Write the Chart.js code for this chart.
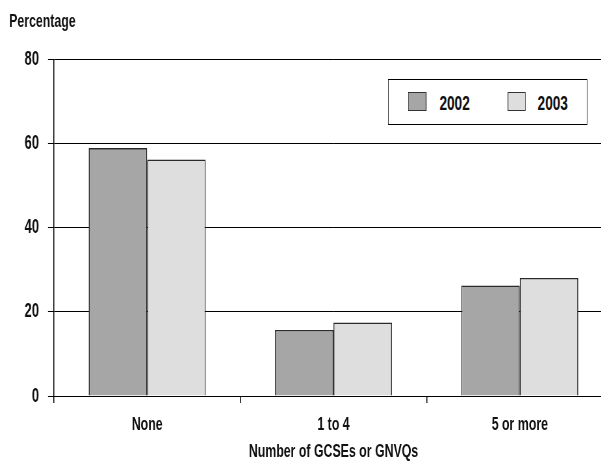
<!DOCTYPE html>
<html>
<head>
<meta charset="utf-8">
<script src="https://cdn.jsdelivr.net/npm/chart.js@4/dist/chart.umd.min.js"></script>
<style>
  html, body { margin: 0; padding: 0; background: #fff; overflow: hidden; }
  /* the reference type is a tall condensed face; squeeze the whole drawing horizontally */
  #wrap { position: relative; width: 985px; height: 465px; transform: scaleX(0.65); transform-origin: 0 0; }
  #legend {
    position: absolute; left: 597px; top: 79px; width: 305px; height: 44px;
    border-style: solid; border-color: #000; border-width: 1px 1.6px;
    background: #fff;
    font-family: "Liberation Sans", Arial, sans-serif; font-weight: bold;
    font-size: 21px; color: #111;
  }
  #legend .sw { position: absolute; top: 12px; width: 28px; height: 19px; border-style: solid; border-color: #333; border-width: 1px 1.6px; box-sizing: border-box; }
  #legend .lbl { position: absolute; top: 12px; height: 22px; line-height: 22px; }
</style>
</head>
<body>
<div id="wrap">
  <canvas id="chart" width="985" height="465"></canvas>
  <div id="legend"></div>
</div>
<script>
  var categories = ["None", "1 to 4", "5 or more"];
  var seriesNames = ["2002", "2003"];
  var values2002 = [59, 15.7, 26.3];
  var values2003 = [56.3, 17.5, 28.1];
  var yTicks = [0, 20, 40, 60, 80];

  var SQ = 0.65; // horizontal squeeze applied by css
  var vline = 1 / SQ; // width that shows as 1px for vertical strokes
  var colors = ["#a6a6a6", "#dedede"];
  var ink = "#111";

  Chart.defaults.font.family = "'Liberation Sans', Arial, sans-serif";
  Chart.defaults.font.size = 19;
  Chart.defaults.font.weight = "bold";
  Chart.defaults.color = ink;

  var ctx = document.getElementById("chart");
  var chart = new Chart(ctx, {
    type: "bar",
    data: {
      labels: categories,
      datasets: [
        {
          label: seriesNames[0],
          data: values2002,
          backgroundColor: colors[0],
          borderColor: "#2a2a2a",
          borderWidth: 1.6,
        },
        {
          label: seriesNames[1],
          data: values2003,
          backgroundColor: colors[1],
          borderColor: "#2a2a2a",
          borderWidth: 1.6,
        },
      ],
    },
    options: {
      responsive: false,
      animation: false,
      devicePixelRatio: 1,
      layout: { padding: { left: 14, top: 0, right: 42, bottom: 0 } },
      datasets: {
        bar: { categoryPercentage: 0.628, barPercentage: 1 },
      },
      plugins: {
        legend: { display: false },
        tooltip: { enabled: false },
        title: {
          display: true,
          text: "Percentage",
          align: "start",
          color: ink,
          font: { size: 19, weight: "bold" },
          padding: { top: 10, bottom: 27 },
        },
      },
      scales: {
        x: {
          offset: true,
          grid: {
            display: true,
            offset: true,
            drawOnChartArea: false,
            color: "#000",
            lineWidth: vline,
            tickLength: 7,
          },
          border: { display: true, color: "#000", width: 1 },
          ticks: { padding: 10, color: ink, font: { size: 19 } },
          title: {
            display: true,
            text: "Number of GCSEs or GNVQs",
            color: ink,
            font: { size: 19 },
            padding: { top: 0, bottom: 2 },
          },
          afterFit: function (scale) {
            scale.height = 69;
          },
        },
        y: {
          min: 0,
          max: 80,
          afterBuildTicks: function (scale) {
            scale.ticks = yTicks.map(function (v) {
              return { value: v };
            });
          },
          grid: { color: "#000", lineWidth: 1, tickLength: 6 / SQ },
          border: { display: true, color: "#000", width: vline },
          ticks: { padding: 9 / SQ, color: ink, font: { size: 20 } },
          afterFit: function (scale) {
            scale.width = 54 / SQ - 14;
          },
        },
      },
    },
  });

  // legend built from the datasets
  var legendEl = document.getElementById("legend");
  var swatchX = [30, 183];
  var labelX = [78, 229];
  chart.data.datasets.forEach(function (ds, i) {
    var sw = document.createElement("span");
    sw.className = "sw";
    sw.style.left = swatchX[i] + "px";
    sw.style.background = ds.backgroundColor;
    var lbl = document.createElement("span");
    lbl.className = "lbl";
    lbl.style.left = labelX[i] + "px";
    lbl.textContent = ds.label;
    legendEl.appendChild(sw);
    legendEl.appendChild(lbl);
  });
</script>
</body>
</html>
